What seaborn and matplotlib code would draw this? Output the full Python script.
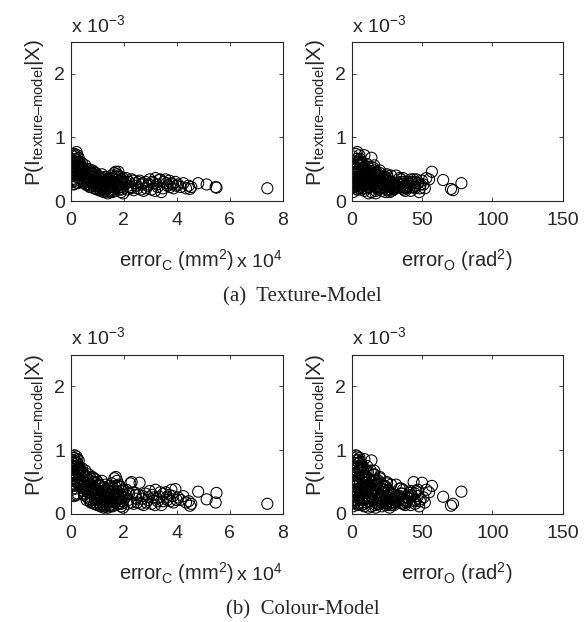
import numpy as np
import pandas as pd
import matplotlib
matplotlib.use('Agg')
import matplotlib.pyplot as plt
import seaborn as sns

# error_C in units of 1e4 mm^2, error_O in rad^2, probabilities in units of 1e-3
err_c = [0.05, 0.08, 0.10, 0.12, 0.15, 0.18, 0.20, 0.22, 0.25, 0.28,
         0.30, 0.06, 0.09, 0.14, 0.17, 0.21, 0.24, 0.27, 0.32, 0.35,
         0.38, 0.04, 0.11, 0.19, 0.26, 0.33, 0.36, 0.40, 0.13, 0.23,
         0.42, 0.45, 0.48, 0.50, 0.52, 0.55, 0.58, 0.60, 0.62, 0.65,
         0.68, 0.70, 0.72, 0.75, 0.78, 0.80, 0.82, 0.85, 0.88, 0.90,
         0.92, 0.95, 0.98, 1.00,
         1.02, 1.05, 1.08, 1.10, 1.12, 1.15, 1.18, 1.20, 1.22, 1.25,
         1.28, 1.30, 1.33, 1.35, 1.38, 1.40, 1.42, 1.45, 1.48, 1.50,
         1.52, 1.55, 1.58, 1.60, 1.62, 1.65, 1.68, 1.70, 1.72, 1.75,
         1.78, 1.80, 1.82, 1.85, 1.88, 1.90, 1.92, 1.95, 1.98, 2.00,
         2.05, 2.10, 2.15, 2.20, 2.25, 2.30, 2.38, 2.45, 2.52, 2.60,
         2.68, 2.75, 2.82, 2.90, 2.98, 3.05, 3.12, 3.20, 3.28, 3.35,
         3.42, 3.50, 3.58, 3.65, 3.72, 3.80, 3.88, 3.95,
         4.05, 4.15, 4.25, 4.35, 4.45, 4.50, 4.55, 4.81, 5.13, 5.50,
         5.47, 7.42,
         0.03, 0.07, 0.10, 0.13, 0.16, 0.19, 0.22, 0.25, 0.28, 0.31,
         0.34, 0.37, 0.40, 0.43, 0.46, 0.49, 0.02, 0.06, 0.15, 0.29,
         0.51, 0.54, 0.57, 0.61, 0.64, 0.67, 0.71, 0.74, 0.77, 0.81,
         0.84, 0.87, 0.91, 0.94, 0.97, 0.56, 0.66, 0.76, 0.86, 0.96,
         1.01, 1.04, 1.07, 1.11, 1.14, 1.17, 1.21, 1.24, 1.27, 1.31,
         1.34, 1.37, 1.41, 1.44, 1.47, 1.51, 1.54, 1.57, 1.61, 1.64,
         1.67, 1.71, 1.74, 1.77, 1.81, 1.84, 1.87, 1.91, 1.94, 1.97,
         1.06, 1.26, 1.46, 1.66, 1.86,
         2.08, 2.18, 2.28, 2.35, 2.48, 2.55, 2.65, 2.72, 2.85, 2.95,
         3.08, 3.18, 3.25, 3.38, 3.48, 3.62, 3.75, 3.85, 4.00]
err_o = [2, 5, 1, 8, 3, 6, 11, 4, 9, 2,
         14, 0.5, 3, 7, 12, 0.8, 5, 16, 7, 10,
         3, 1.5, 4, 9, 1, 13, 6, 18, 0.3, 2.5,
         4, 8, 15, 2, 20, 6, 11, 0.5, 17, 9,
         3, 24, 13, 7, 19, 1, 10, 26, 5, 15,
         21, 3, 12, 30,
         6, 14, 2, 22, 9, 33, 4, 18, 11, 27,
         1, 16, 38, 7, 23, 12, 29, 3, 19, 42,
         8, 25, 14, 35, 5, 20, 31, 10, 45, 16,
         2, 57, 37, 13, 22, 48, 6, 33, 17, 40,
         11, 26, 4, 35, 18, 44, 72, 30, 21, 50,
         15, 38, 27, 7, 46, 19, 33, 53, 12, 65,
         24, 36, 55, 29, 16, 47, 39, 22,
         51, 31, 43, 52, 26, 70.6, 36, 78, 49, 41,
         28, 45,
         3.5, 7.5, 10.5, 5.5, 1.2, 13.5, 8.5, 2.2, 6.5, 11.5,
         4.5, 15.5, 9.5, 1.8, 12.5, 6.8, 16, 19, 22, 25,
         3.2, 14.5, 8.2, 22.5, 5.2, 17.5, 10.2, 28, 2.8, 13.8,
         20.5, 7.2, 31, 16.5, 0.8, 34, 1.5, 25, 9.8, 19.5,
         4.8, 19.2, 11.8, 27.5, 2.5, 15.2, 32, 7.8, 21.5, 0.6,
         13.2, 36, 9.2, 24.5, 4.2, 17.8, 39, 11.2, 28.5, 6.2,
         23.5, 14.8, 42, 8.8, 31.5, 18.8, 3.8, 26.5, 12.2, 36.5,
         40, 45, 0.9, 47, 1.4,
         20.8, 8.8, 29.5, 14.2, 40.5, 5.8, 24.8, 34.5, 10.8, 28.8,
         42.5, 17.2, 36.2, 9.2, 48.5, 25.2, 44.5, 31.2, 20]
p_texture = [0.55, 0.62, 0.70, 0.48, 0.74, 0.66, 0.58, 0.77, 0.72, 0.52,
             0.68, 0.42, 0.35, 0.60, 0.45, 0.38, 0.64, 0.56, 0.62, 0.50,
             0.44, 0.30, 0.26, 0.32, 0.28, 0.36, 0.58, 0.40, 0.27, 0.29,
             0.60, 0.52, 0.34, 0.28, 0.48, 0.56, 0.40, 0.25, 0.44, 0.30,
             0.50, 0.36, 0.22, 0.46, 0.28, 0.38, 0.48, 0.32, 0.20, 0.42,
             0.26, 0.44, 0.34, 0.18,
             0.40, 0.30, 0.22, 0.36, 0.16, 0.26, 0.42, 0.20, 0.34, 0.14,
             0.30, 0.38, 0.24, 0.18, 0.32, 0.12, 0.28, 0.36, 0.22, 0.16,
             0.30, 0.40, 0.14, 0.34, 0.26, 0.44, 0.20, 0.46, 0.30, 0.42,
             0.24, 0.46, 0.18, 0.38, 0.28, 0.14, 0.34, 0.22, 0.12, 0.30,
             0.26, 0.36, 0.18, 0.30, 0.22, 0.34, 0.17, 0.28, 0.20, 0.32,
             0.26, 0.16, 0.30, 0.24, 0.34, 0.18, 0.28, 0.36, 0.22, 0.33,
             0.14, 0.30, 0.34, 0.24, 0.32, 0.28, 0.20, 0.30,
             0.26, 0.22, 0.28, 0.20, 0.24, 0.19, 0.22, 0.28, 0.26, 0.21,
             0.22, 0.20,
             0.66, 0.58, 0.50, 0.72, 0.62, 0.54, 0.46, 0.40, 0.60, 0.54,
             0.46, 0.52, 0.36, 0.54, 0.44, 0.32, 0.48, 0.40, 0.34, 0.42,
             0.42, 0.30, 0.50, 0.38, 0.26, 0.46, 0.32, 0.40, 0.24, 0.44,
             0.30, 0.38, 0.24, 0.36, 0.28, 0.36, 0.34, 0.22, 0.46, 0.20,
             0.34, 0.24, 0.38, 0.18, 0.28, 0.32, 0.22, 0.36, 0.16, 0.26,
             0.30, 0.20, 0.34, 0.26, 0.18, 0.32, 0.22, 0.36, 0.16, 0.30,
             0.38, 0.24, 0.34, 0.20, 0.40, 0.26, 0.32, 0.18, 0.28, 0.36,
             0.28, 0.24, 0.14, 0.28, 0.22,
             0.30, 0.24, 0.20, 0.32, 0.24, 0.30, 0.18, 0.28, 0.20, 0.26,
             0.30, 0.16, 0.26, 0.34, 0.20, 0.28, 0.22, 0.26, 0.24]
p_colour = [0.80, 0.85, 0.88, 0.70, 0.92, 0.82, 0.75, 0.90, 0.86, 0.64,
            0.84, 0.60, 0.48, 0.78, 0.55, 0.50, 0.80, 0.68, 0.74, 0.60,
            0.52, 0.38, 0.30, 0.40, 0.32, 0.44, 0.70, 0.46, 0.28, 0.30,
            0.72, 0.66, 0.40, 0.30, 0.58, 0.68, 0.45, 0.22, 0.52, 0.34,
            0.62, 0.42, 0.20, 0.56, 0.26, 0.44, 0.58, 0.36, 0.16, 0.50,
            0.24, 0.54, 0.38, 0.14,
            0.50, 0.32, 0.18, 0.44, 0.12, 0.28, 0.52, 0.16, 0.40, 0.10,
            0.34, 0.46, 0.22, 0.14, 0.38, 0.10, 0.30, 0.44, 0.20, 0.14,
            0.34, 0.48, 0.12, 0.40, 0.24, 0.56, 0.18, 0.58, 0.32, 0.52,
            0.22, 0.44, 0.16, 0.42, 0.28, 0.12, 0.36, 0.20, 0.10, 0.30,
            0.26, 0.38, 0.16, 0.32, 0.48, 0.50, 0.16, 0.30, 0.18, 0.49,
            0.24, 0.14, 0.32, 0.22, 0.36, 0.16, 0.26, 0.38, 0.20, 0.27,
            0.14, 0.32, 0.34, 0.22, 0.30, 0.38, 0.18, 0.39,
            0.26, 0.22, 0.28, 0.18, 0.20, 0.13, 0.16, 0.35, 0.23, 0.33,
            0.18, 0.16,
            0.84, 0.76, 0.66, 0.88, 0.74, 0.68, 0.58, 0.50, 0.72, 0.66,
            0.56, 0.62, 0.42, 0.64, 0.52, 0.36, 0.62, 0.52, 0.44, 0.50,
            0.50, 0.32, 0.60, 0.44, 0.26, 0.54, 0.34, 0.46, 0.22, 0.50,
            0.30, 0.42, 0.22, 0.40, 0.26, 0.40, 0.38, 0.18, 0.56, 0.16,
            0.38, 0.22, 0.46, 0.14, 0.30, 0.36, 0.20, 0.42, 0.12, 0.26,
            0.32, 0.18, 0.38, 0.24, 0.14, 0.34, 0.20, 0.42, 0.14, 0.30,
            0.44, 0.22, 0.36, 0.16, 0.46, 0.24, 0.32, 0.16, 0.26, 0.38,
            0.26, 0.22, 0.12, 0.28, 0.20,
            0.30, 0.22, 0.18, 0.34, 0.24, 0.30, 0.16, 0.28, 0.18, 0.26,
            0.30, 0.14, 0.24, 0.34, 0.20, 0.26, 0.20, 0.28, 0.22]

df = pd.DataFrame({'err_c': err_c, 'err_o': err_o,
                   'p_texture': p_texture, 'p_colour': p_colour})

sns.set_style('ticks')
plt.rcParams['font.family'] = ['Liberation Sans', 'DejaVu Sans']
plt.rcParams['mathtext.fontset'] = 'custom'
plt.rcParams['mathtext.rm'] = 'Liberation Sans'
plt.rcParams['mathtext.it'] = 'Liberation Sans'
plt.rcParams['xtick.direction'] = 'in'
plt.rcParams['ytick.direction'] = 'in'
plt.rcParams['xtick.top'] = True
plt.rcParams['ytick.right'] = True

fig = plt.figure(figsize=(5.87, 6.22), dpi=100)

W, H = 587, 622
def add_ax(left, top, right, bottom):
    return fig.add_axes([left / W, 1 - bottom / H, (right - left) / W, (bottom - top) / H])

panels = [
    (add_ax(70.7, 42, 282.7, 201), 'err_c', 'p_texture', 'texture\u2013model'),
    (add_ax(351.7, 42, 562.7, 201), 'err_o', 'p_texture', 'texture\u2013model'),
    (add_ax(70.7, 354.5, 282.7, 514), 'err_c', 'p_colour', 'colour\u2013model'),
    (add_ax(351.7, 354.5, 562.7, 514), 'err_o', 'p_colour', 'colour\u2013model'),
]

for ax, xcol, ycol, sub in panels:
    sns.scatterplot(data=df, x=xcol, y=ycol, ax=ax, marker='o', s=64,
                    facecolor='none', edgecolor='black', linewidth=0.75,
                    clip_on=True)
    ax.set_ylim(0, 2.5)
    ax.set_yticks([0, 1, 2])
    if xcol == 'err_c':
        ax.set_xlim(0, 8)
        ax.set_xticks([0, 2, 4, 6, 8])
        ax.set_xlabel(r'error$_\mathrm{C}$ (mm$^2$)', fontsize=14.5)
        ax.text(0.997, -0.415, r'x 10$^4$', transform=ax.transAxes, ha='right',
                va='baseline', fontsize=14)
    else:
        ax.set_xlim(0, 150)
        ax.set_xticks([0, 50, 100, 150])
        ax.set_xlabel(r'error$_\mathrm{O}$ (rad$^2$)', fontsize=14.5)
    ax.xaxis.label.set_va('baseline')
    ax.xaxis.set_label_coords(0.5, -0.415)
    ax.set_ylabel(r'P(I$_\mathrm{' + sub + r'}$|X)', fontsize=15)
    ax.yaxis.set_label_coords(-0.117, 0.557)
    ax.text(0.0, 1.065, r'x 10$^{-3}$', transform=ax.transAxes, ha='left',
            va='baseline', fontsize=14)
    ax.tick_params(labelsize=14, length=3, width=0.6)
    ax.tick_params(axis='x', pad=8)
    ax.tick_params(axis='y', pad=4)
    for sp in ax.spines.values():
        sp.set_linewidth(0.8)
        sp.set_visible(True)

fig.text(302 / W, 1 - 297 / H, '(a)  Texture-Model', ha='center', va='center',
         fontsize=15, family='Liberation Serif')
fig.text(303 / W, 1 - 610 / H, '(b)  Colour-Model', ha='center', va='center',
         fontsize=15, family='Liberation Serif')

fig.savefig('out.png', dpi=100)
